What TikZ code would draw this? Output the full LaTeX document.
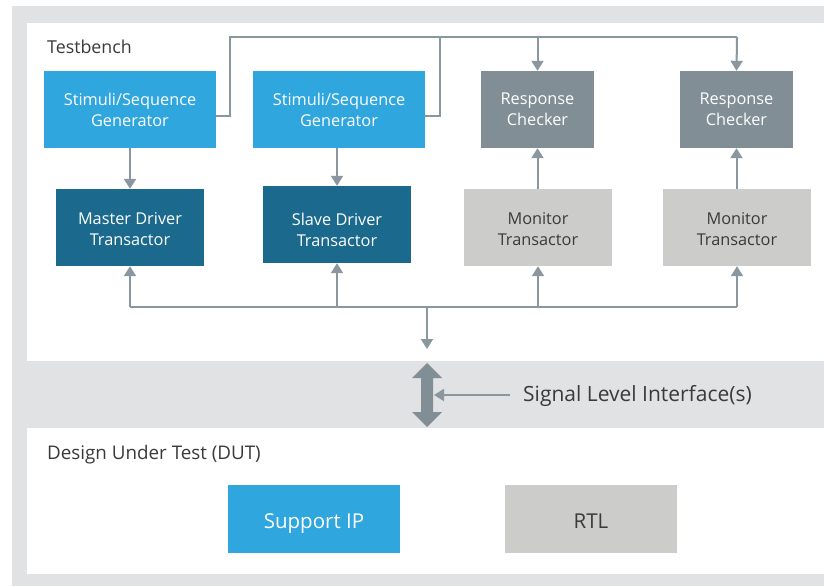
\documentclass[tikz,border=0pt]{standalone}
\usepackage{fontspec}
\setmainfont{Open Sans}
\usetikzlibrary{arrows.meta,calc}

\definecolor{framegray}{HTML}{E1E2E4}
\definecolor{stimblue}{HTML}{2FA6DE}
\definecolor{drvblue}{HTML}{1B6A8D}
\definecolor{chkgray}{HTML}{818E95}
\definecolor{mongray}{HTML}{CCCCCA}
\definecolor{wiregray}{HTML}{8A979E}
\definecolor{inkdark}{HTML}{3A3A3A}

\tikzset{
  blkfont/.style={font=\fontsize{16.3}{21}\selectfont},
  blk/.style={rectangle, inner sep=0pt, align=center, blkfont},
  stimblk/.style={blk, fill=stimblue, text=white, minimum width=172pt, minimum height=77pt},
  drvblk/.style={blk, fill=drvblue, text=white, minimum width=148pt, minimum height=77pt},
  chkblk/.style={blk, fill=chkgray, text=white, minimum width=113pt, minimum height=77pt},
  monblk/.style={blk, fill=mongray, text=inkdark, minimum width=148pt, minimum height=77pt},
  dutblk/.style={blk, minimum width=172pt, minimum height=68pt, text depth=0pt,
    font=\fontsize{20.5}{24}\selectfont},
  wire/.style={draw=wiregray, line width=2pt},
  arrowwire/.style={wire, -{Triangle[width=12pt,length=10pt]}},
  title/.style={anchor=west, inner sep=0pt, text=inkdark},
  boxlabel/.style={align=center, blkfont, inner sep=0pt},
}

\begin{document}
\begin{tikzpicture}[x=1pt, y=-1pt]
  \useasboundingbox (0,0) rectangle (824,586);

  % frame and panels
  \fill[framegray] (12,6) rectangle (824,586);
  \fill[white] (27,23) rectangle (824,361);
  \fill[white] (27,428) rectangle (824,574);

  \node[title, font=\fontsize{17.8}{20}\selectfont] (tbtitle) at (47,47) {Testbench};
  \node[title, font=\fontsize{18.8}{22}\selectfont] (duttitle) at (47,455) {Design Under Test (DUT)};

  % testbench blocks
  \node[stimblk] (stim1) at (130,109.5) {Stimuli/Sequence\\Generator};
  \node[stimblk] (stim2) at (339,109.5) {Stimuli/Sequence\\Generator};
  \node[chkblk]  (chk1)  at (537.5,109.5) {Response\\Checker};
  \node[chkblk]  (chk2)  at (736.5,109.5) {Response\\Checker};
  \node[drvblk, label={[name=mdrvtext, boxlabel, text=white, yshift=-2pt]center:Master Driver\\Transactor}]
    (mdrv) at (130,227.5) {};
  \node[drvblk, label={[name=sdrvtext, boxlabel, text=white, yshift=-5pt]center:Slave Driver\\Transactor}]
    (sdrv) at (337,224.5) {};
  \node[monblk, label={[name=mon1text, boxlabel, text=inkdark, yshift=-2pt]center:Monitor\\Transactor}]
    (mon1) at (538,227.5) {};
  \node[monblk, label={[name=mon2text, boxlabel, text=inkdark, yshift=-2pt]center:Monitor\\Transactor}]
    (mon2) at (737,227.5) {};

  % DUT blocks
  \node[dutblk, fill=stimblue, text=white, label={[name=siptext, boxlabel, text=white,
        font=\fontsize{20.5}{24}\selectfont, text depth=0pt, yshift=-2pt]center:Support IP}] (sip) at (314,519) {};
  \node[dutblk, fill=mongray, label={[name=rtltext, boxlabel, text=inkdark,
        font=\fontsize{20.5}{24}\selectfont, text depth=0pt, yshift=-2pt]center:RTL}] (rtl) at (591,519) {};

  % top bus from the generators to the checkers
  \coordinate (topL) at (230,37);
  \coordinate (topM) at (440,37);
  \coordinate (topR) at (737,37);
  \draw[wire] ([yshift=-6.5pt]stim1.east) -| (topL) -- (topR);
  \draw[wire] ([yshift=-6.5pt]stim2.east) -| (topM);
  \draw[arrowwire] (chk1.north |- topL) -- (chk1.north);
  \draw[arrowwire] (topR) -- (chk2.north);

  % generator to driver, monitor to checker
  \draw[arrowwire] (stim1.south) -- (mdrv.north);
  \draw[arrowwire] (stim2.south -| sdrv.north) -- (sdrv.north);
  \draw[arrowwire] (mon1.north -| chk1.south) -- (chk1.south);
  \draw[arrowwire] (mon2.north -| chk2.south) -- (chk2.south);

  % bottom bus to the transactors
  \coordinate (botL) at (130,307);
  \coordinate (botR) at (737,307);
  \coordinate (botD) at (427,307);
  \coordinate (botTip) at (427,349);
  \draw[wire] (botL) -- (botR);
  \draw[arrowwire] (botL) -- (mdrv.south);
  \draw[arrowwire] (sdrv.south |- botL) -- (sdrv.south);
  \draw[arrowwire] (mon1.south |- botL) -- (mon1.south);
  \draw[arrowwire] (botR) -- (mon2.south);
  \draw[arrowwire] (botD) -- (botTip);

  % signal level interface double arrow
  \fill[chkgray] (427,363) -- (442,378) -- (433,378) -- (433,412) -- (442,412)
    -- (427,427) -- (412,412) -- (421,412) -- (421,378) -- (412,378) -- cycle;
  \coordinate (sigtip) at (434,395);
  \node[anchor=west, inner ysep=0pt, inner xsep=13pt, text=inkdark,
        font=\fontsize{21}{24}\selectfont] (sig) at (510,396) {Signal Level Interface(s)};
  \draw[arrowwire] (sig.west |- sigtip) -- (sigtip);
\end{tikzpicture}
\end{document}
